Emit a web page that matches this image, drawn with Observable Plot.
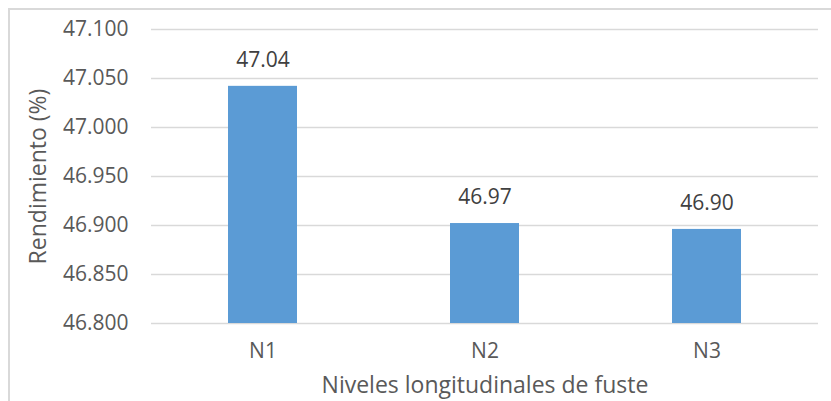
<!DOCTYPE html>
<html>
<head>
<meta charset="utf-8">
<script src="https://cdn.jsdelivr.net/npm/d3@7"></script>
<script src="https://cdn.jsdelivr.net/npm/@observablehq/plot@0.6"></script>
<style>
  html, body { margin: 0; padding: 0; background: #fff; }
  #wrap { position: relative; width: 831px; height: 401px; overflow: hidden; }
  #frame { position: absolute; left: 8px; top: 8px; width: 900px; height: 500px;
           border-left: 2px solid #d9d9d9; border-top: 2px solid #d9d9d9; box-sizing: border-box; }
  #chart { position: absolute; left: 0; top: 0; }
</style>
</head>
<body>
<div id="wrap"><div id="frame"></div><div id="chart"></div></div>
<script>
const categories = ["N1", "N2", "N3"];
const values = [47.042, 46.902, 46.896];
const valueLabels = ["47.04", "46.97", "46.90"];
const yDomain = [46.8, 47.1];
const yTicks = [46.8, 46.85, 46.9, 46.95, 47.0, 47.05, 47.1];
const xTitle = "Niveles longitudinales de fuste";
const yTitle = "Rendimiento (%)";

const data = categories.map((c, i) => ({cat: c, value: values[i], label: valueLabels[i]}));

const chart = Plot.plot({
  width: 831,
  height: 401,
  marginLeft: 151,
  marginRight: 13,
  marginTop: 29,
  marginBottom: 78,
  style: {fontFamily: "'Open Sans', sans-serif", fontSize: "21px", color: "#595959", background: "transparent"},
  x: {type: "band", domain: categories, paddingInner: 0.6875, paddingOuter: 0.34375, label: null},
  y: {domain: yDomain, label: null},
  marks: [
    Plot.gridY(yTicks, {stroke: "#d9d9d9", strokeOpacity: 1, strokeWidth: 1.5}),
    Plot.barY(data, {x: "cat", y1: yDomain[0], y2: "value", fill: "#5b9bd5"}),
    Plot.text(data, {x: "cat", y: "value", text: "label", dy: -26, lineAnchor: "middle", fill: "#404040", fontSize: 21}),
    Plot.axisY({ticks: yTicks, tickFormat: d3.format(".3f"), tickSize: 0, tickPadding: 23, fontSize: 21, fill: "#595959", label: null}),
    Plot.axisX({tickSize: 0, tickPadding: 20, fontSize: 21, fill: "#595959", label: null}),
    Plot.text([yTitle], {frameAnchor: "left", dx: -113, rotate: -90, text: d => d, fontSize: 23, fill: "#595959", lineAnchor: "middle", textAnchor: "middle"}),
    Plot.text([xTitle], {frameAnchor: "bottom", dy: 62, text: d => d, fontSize: 23, fill: "#595959", lineAnchor: "middle", textAnchor: "middle"})
  ]
});
document.getElementById("chart").appendChild(chart);
</script>
</body>
</html>
